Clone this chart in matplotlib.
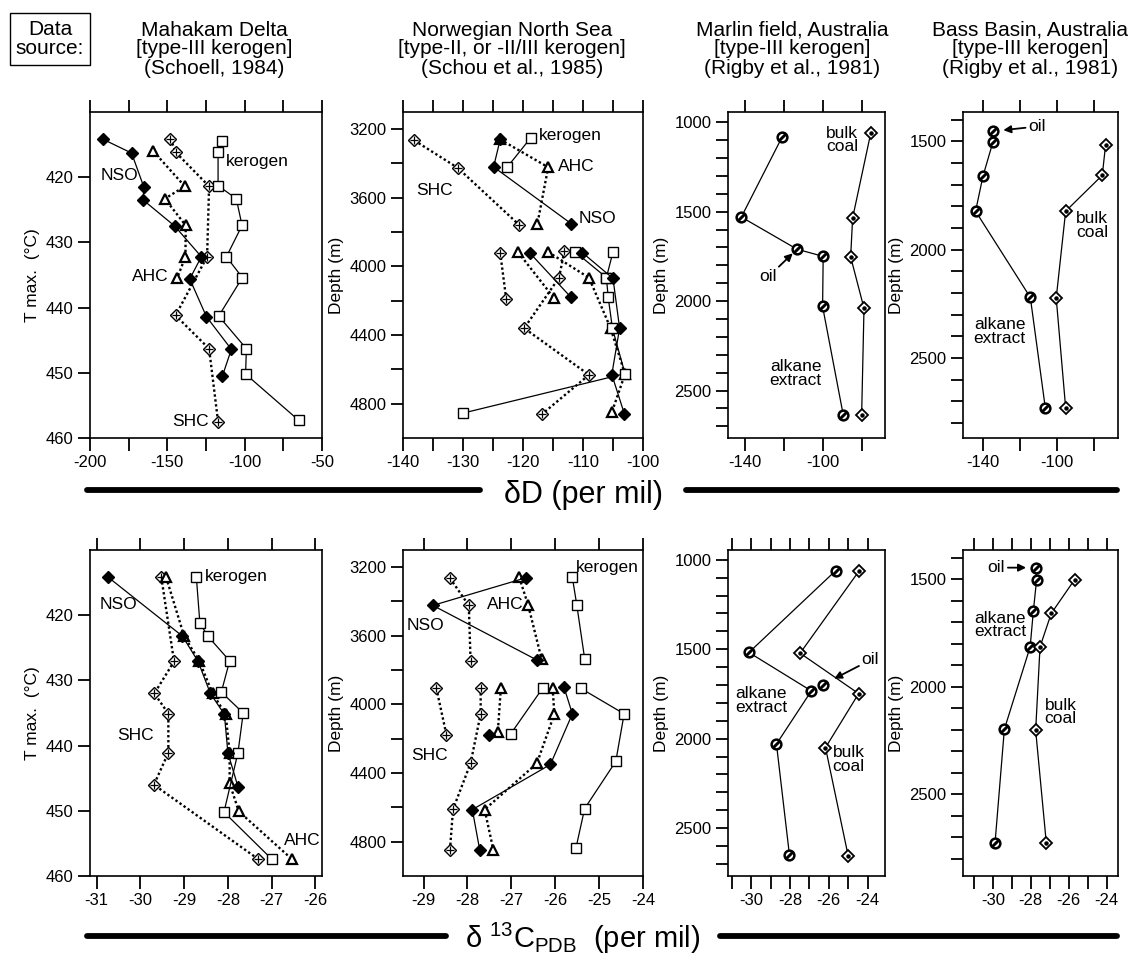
import numpy as np
import matplotlib
matplotlib.use('Agg')
import matplotlib.pyplot as plt
from matplotlib.lines import Line2D

plt.rcParams['font.family'] = ['Liberation Sans', 'DejaVu Sans']
plt.rcParams['mathtext.fontset'] = 'custom'
plt.rcParams['mathtext.rm'] = 'Liberation Sans'
plt.rcParams['mathtext.it'] = 'Liberation Sans:italic'
plt.rcParams['axes.unicode_minus'] = False

nan = np.nan

# ---------------- data: delta D (top row) ----------------
# Mahakam Delta, x = dD, y = Tmax
mah_dD_nso_x = [-191.4, -173.1, -165.2, -165.6, -145.2, -128.0, -135.5, -124.7, -108.6, -114.4]
mah_dD_nso_t = [414.2, 416.3, 421.5, 423.5, 427.5, 432.2, 435.6, 441.4, 446.4, 450.5]
mah_dD_ahc_x = [-159.1, -138.7, -151.6, -138.1, -138.3, -143.7]
mah_dD_ahc_t = [416.0, 421.4, 423.3, 427.4, 432.2, 435.5]
mah_dD_shc_x = [-148.0, -144.5, -123.0, -124.3, -144.7, -123.0, -117.2]
mah_dD_shc_t = [414.1, 416.2, 421.4, 432.2, 441.2, 446.3, 457.5]
mah_dD_ker_x = [-114.4, -117.2, -117.2, -105.4, -101.7, -111.8, -101.5, -116.8, -98.9, -99.4, -65.0]
mah_dD_ker_t = [414.4, 416.2, 421.3, 423.3, 427.4, 432.2, 435.4, 441.3, 446.3, 450.2, 457.3]

# Norwegian North Sea, x = dD, y = depth (nan separates wells)
nor_dD_nso_x = [-123.8, -124.9, -112.0, nan, -118.9, -112.0, nan, -110.1, -105.0, -103.9, -105.2, -103.1]
nor_dD_nso_d = [3260, 3420, 3750, nan, 3920, 4180, nan, 3920, 4070, 4360, 4630, 4860]
nor_dD_ker_x = [-118.7, -122.6, nan, -111.3, -106.1, -105.8, -105.1, -103.0, -130.0, nan, -105.0, -106.1]
nor_dD_ker_d = [3250, 3420, nan, 3915, 4065, 4180, 4360, 4625, 4855, nan, 3915, 4065]
nor_dD_ahc_x = [-123.8, -115.8, -117.6, nan, -120.8, -114.8, nan, -115.8, -109.0, -105.4, -103.0, -105.2]
nor_dD_ahc_d = [3260, 3422, 3752, nan, 3918, 4186, nan, 3916, 4066, 4360, 4628, 4850]
nor_dD_shc_x = [-138.1, -130.9, -120.7, nan, -123.8, -122.8, nan, -113.1, -114.0, -119.8, -109.0, -116.8]
nor_dD_shc_d = [3266, 3425, 3756, nan, 3920, 4190, nan, 3912, 4066, 4360, 4632, 4860]

# Marlin field
mar_dD_alk_x = [-120.8, -141.7, -113.3, -100.0, -100.3, -89.8]
mar_dD_alk_d = [1080, 1530, 1710, 1750, 2030, 2635]
mar_dD_coal_x = [-75.8, -85.0, -86.0, -79.2, -80.4]
mar_dD_coal_d = [1063, 1535, 1753, 2040, 2634]

# Bass Basin
bas_dD_alk_x = [-134.6, -134.6, -140.0, -144.0, -114.4, -106.3]
bas_dD_alk_d = [1453, 1503, 1661, 1823, 2221, 2731]
bas_dD_coal_x = [-73.7, -75.5, -95.3, -100.4, -95.3]
bas_dD_coal_d = [1516, 1657, 1823, 2224, 2731]

# ---------------- data: delta 13C (bottom row) ----------------
mah_c_ker_x = [-28.72, -28.64, -28.46, -27.96, -28.15, -27.65, -27.77, -28.09, -27.0]
mah_c_ker_t = [414.2, 421.2, 423.2, 427.0, 431.8, 435.0, 441.1, 450.2, 457.4]
mah_c_nso_x = [-30.73, -29.04, -28.68, -28.40, -28.08, -28.00, -27.77]
mah_c_nso_t = [414.2, 423.2, 427.1, 432.0, 435.2, 441.1, 446.3]
mah_c_ahc_x = [-29.41, -29.0, -28.65, -28.35, -28.05, -27.96, -27.96, -27.75, -26.54]
mah_c_ahc_t = [414.2, 423.2, 427.1, 432.0, 435.2, 441.1, 445.8, 450.1, 457.4]
mah_c_shc_x = [-29.52, -29.23, -29.68, -29.36, -29.36, -29.69, -27.31]
mah_c_shc_t = [414.2, 427.1, 432.0, 435.1, 441.1, 446.0, 457.4]

nor_c_shc_x = [-28.40, -27.97, -27.93, nan, -28.71, -28.48, nan, -27.70, -27.70, -27.93, -28.33, -28.40]
nor_c_shc_d = [3264, 3423, 3747, nan, 3906, 4177, nan, 3906, 4055, 4343, 4611, 4849]
nor_c_nso_x = [-26.67, -28.79, -26.42, nan, -27.51, nan, -25.80, -25.61, -26.11, -27.89, -27.72]
nor_c_nso_d = [3262, 3423, 3741, nan, 4177, nan, 3900, 4055, 4350, 4613, 4850]
nor_c_ahc_x = [-26.82, -26.62, -26.31, nan, -27.24, -27.31, nan, -26.06, -26.02, -26.42, -27.61, -27.41]
nor_c_ahc_d = [3260, 3419, 3737, nan, 3906, 4163, nan, 3906, 4056, 4344, 4613, 4848]
nor_c_ker_x = [-25.61, -25.51, -25.33, nan, -26.29, -27.01, nan, -25.42, -24.43, -24.62, -25.33, -25.53]
nor_c_ker_d = [3260, 3419, 3733, nan, 3906, 4170, nan, 3906, 4055, 4332, 4607, 4839]

mar_c_alk_x = [-25.65, -30.12, -26.90, -28.70, -28.03]
mar_c_alk_d = [1061, 1518, 1733, 2030, 2650]
mar_c_oil_x = [-26.3]
mar_c_oil_d = [1698]
mar_c_coal_x = [-24.43, -27.48, -24.46, -26.17, -25.0]
mar_c_coal_d = [1061, 1522, 1748, 2050, 2655]

bas_c_alk_x = [-27.74, -27.69, -27.86, -28.03, -29.39, -29.88]
bas_c_alk_d = [1447, 1503, 1647, 1815, 2198, 2725]
bas_c_coal_x = [-25.69, -26.92, -27.51, -27.74, -27.18]
bas_c_coal_d = [1503, 1660, 1815, 2203, 2725]

titles = ['Mahakam Delta\n[type-III kerogen]\n(Schoell, 1984)',
          'Norwegian North Sea\n[type-II, or -II/III kerogen]\n(Schou et al., 1985)',
          'Marlin field, Australia\n[type-III kerogen]\n(Rigby et al., 1981)',
          'Bass Basin, Australia\n[type-III kerogen]\n(Rigby et al., 1981)']

# ---------------- figure ----------------
W, H = 1137, 965
fig = plt.figure(figsize=(W / 100, H / 100), dpi=100)

cols = [(90, 322), (403, 643), (728, 885), (963, 1118)]
title_cx = [214, 512, 792, 1030]
rows = [(112, 438), (550, 876)]


def new_ax(col, row):
    x0, x1 = cols[col]
    y0, y1 = rows[row]
    ax = fig.add_axes([x0 / W, 1 - y1 / H, (x1 - x0) / W, (y1 - y0) / H])
    for s in ax.spines.values():
        s.set_linewidth(1.2)
    ax.tick_params(direction='out', length=9, width=1.3, top=True, bottom=True,
                   left=True, right=False, labelsize=12, pad=3)
    return ax


def set_ticks(ax, xlim, xt, xl, ylim, yt, yl, ylabel):
    ax.set_xlim(*xlim)
    ax.set_ylim(*ylim)
    ax.set_xticks(xt)
    ax.set_xticklabels(xl)
    ax.set_yticks(yt)
    ax.set_yticklabels(yl)
    ax.set_ylabel(ylabel, fontsize=12.5, labelpad=4)


dots = (0, (1.0, 1.1))


def nso(ax, x, y):
    ax.plot(x, y, '-', color='k', lw=0.9, marker='D', ms=6.5, mfc='k', mec='k', zorder=5)


def ker(ax, x, y):
    ax.plot(x, y, '-', color='k', lw=0.9, marker='s', ms=7.5, mfc='white', mec='k', mew=1.0, zorder=4)


def ahc(ax, x, y):
    ax.plot(x, y, ls=dots, color='k', lw=1.7, marker='^', ms=6.5, mfc='white', mec='k', mew=1.6, zorder=3)


def shc(ax, x, y):
    ax.plot(x, y, ls=dots, color='k', lw=1.7, marker='D', ms=5.8, mfc='white', mec='k', mew=1.0, zorder=2)
    ax.plot(x, y, ls='none', marker='+', ms=5.5, mec='k', mew=0.9, zorder=2.1)


def alk(ax, x, y, line=True):
    ax.plot(x, y, '-' if line else 'none', color='k', lw=0.9, marker='o', ms=7, mfc='white',
            mec='k', mew=1.8, zorder=3)
    ax.plot(x, y, ls='none', marker=(2, 2, -45), ms=7, mec='k', mew=1.8, zorder=3.1)


def coal(ax, x, y):
    ax.plot(x, y, '-', color='k', lw=0.9, marker='D', ms=6.2, mfc='white', mec='k', mew=1.3, zorder=3)
    ax.plot(x, y, ls='none', marker='o', ms=2.2, mfc='k', mec='k', zorder=3.1)


def txt(ax, x, y, s, ha='center', va='center'):
    ax.text(x, y, s, ha=ha, va=va, fontsize=12.5, linespacing=0.9, zorder=6)


arrow = dict(arrowstyle='-|>', color='k', lw=1.3, mutation_scale=11, shrinkA=0, shrinkB=2)

# ---- panel 1: Mahakam dD ----
ax = new_ax(0, 0)
shc(ax, mah_dD_shc_x, mah_dD_shc_t)
ahc(ax, mah_dD_ahc_x, mah_dD_ahc_t)
ker(ax, mah_dD_ker_x, mah_dD_ker_t)
nso(ax, mah_dD_nso_x, mah_dD_nso_t)
set_ticks(ax, (-200, -50), [-200, -175, -150, -125, -100, -75, -50],
          ['-200', '', '-150', '', '-100', '', '-50'],
          (460, 410), [420, 430, 440, 450, 460], ['420', '430', '440', '450', '460'],
          'T max.  (°C)')
txt(ax, -181, 419.8, 'NSO')
txt(ax, -112.3, 417.6, 'kerogen', ha='left')
txt(ax, -149.5, 435.2, 'AHC', ha='right')
txt(ax, -123.5, 457.4, 'SHC', ha='right')

# ---- panel 2: Norway dD ----
ax = new_ax(1, 0)
shc(ax, nor_dD_shc_x, nor_dD_shc_d)
ahc(ax, nor_dD_ahc_x, nor_dD_ahc_d)
ker(ax, nor_dD_ker_x, nor_dD_ker_d)
nso(ax, nor_dD_nso_x, nor_dD_nso_d)
set_ticks(ax, (-140, -100), list(range(-140, -99, 5)),
          ['-140', '', '-130', '', '-120', '', '-110', '', '-100'],
          (5000, 3100), list(range(3200, 4801, 200)),
          ['3200', '', '3600', '', '4000', '', '4400', '', '4800'], 'Depth (m)')
txt(ax, -117.4, 3235, 'kerogen', ha='left')
txt(ax, -114.2, 3420, 'AHC', ha='left')
txt(ax, -134.8, 3556, 'SHC')
txt(ax, -110.8, 3722, 'NSO', ha='left')

# ---- panel 3: Marlin dD ----
ax = new_ax(2, 0)
alk(ax, mar_dD_alk_x, mar_dD_alk_d)
coal(ax, mar_dD_coal_x, mar_dD_coal_d)
set_ticks(ax, (-148.5, -68.5), [-140, -120, -100, -80], ['-140', '', '-100', ''],
          (2765, 943), list(range(1000, 2701, 100)),
          [str(v) if v % 500 == 0 else '' for v in range(1000, 2701, 100)], 'Depth (m)')
txt(ax, -98.5, 1100, 'bulk\ncoal', ha='left')
txt(ax, -114, 2405, 'alkane\nextract')
ax.annotate('oil', xy=(-114.5, 1722), xytext=(-128, 1865), ha='center', va='center',
            fontsize=12.5, arrowprops=arrow)

# ---- panel 4: Bass dD ----
ax = new_ax(3, 0)
alk(ax, bas_dD_alk_x, bas_dD_alk_d)
coal(ax, bas_dD_coal_x, bas_dD_coal_d)
set_ticks(ax, (-150.8, -67), [-140, -120, -100, -80], ['-140', '', '-100', ''],
          (2870, 1365), list(range(1400, 2801, 100)),
          [str(v) if v % 500 == 0 else '' for v in range(1400, 2801, 100)], 'Depth (m)')
ax.annotate('oil', xy=(-130.5, 1450), xytext=(-115.5, 1432), ha='left', va='center',
            fontsize=12.5, arrowprops=arrow)
txt(ax, -89.5, 1890, 'bulk\ncoal', ha='left')
txt(ax, -131, 2380, 'alkane\nextract')

# ---- panel 5: Mahakam d13C ----
ax = new_ax(0, 1)
shc(ax, mah_c_shc_x, mah_c_shc_t)
ahc(ax, mah_c_ahc_x, mah_c_ahc_t)
ker(ax, mah_c_ker_x, mah_c_ker_t)
nso(ax, mah_c_nso_x, mah_c_nso_t)
set_ticks(ax, (-31.15, -25.85), [-31, -30, -29, -28, -27, -26],
          ['-31', '-30', '-29', '-28', '-27', '-26'],
          (460, 410), [420, 430, 440, 450, 460], ['420', '430', '440', '450', '460'],
          'T max.  (°C)')
txt(ax, -30.5, 418.4, 'NSO')
txt(ax, -28.52, 414.0, 'kerogen', ha='left')
txt(ax, -30.1, 438.4, 'SHC')
txt(ax, -26.72, 454.6, 'AHC', ha='left')

# ---- panel 6: Norway d13C ----
ax = new_ax(1, 1)
shc(ax, nor_c_shc_x, nor_c_shc_d)
ahc(ax, nor_c_ahc_x, nor_c_ahc_d)
ker(ax, nor_c_ker_x, nor_c_ker_d)
nso(ax, nor_c_nso_x, nor_c_nso_d)
set_ticks(ax, (-29.47, -24.0), [-29, -28, -27, -26, -25, -24],
          ['-29', '-28', '-27', '-26', '-25', '-24'],
          (5000, 3100), list(range(3200, 4801, 200)),
          ['3200', '', '3600', '', '4000', '', '4400', '', '4800'], 'Depth (m)')
txt(ax, -25.52, 3200, 'kerogen', ha='left')
txt(ax, -28.95, 3540, 'NSO')
txt(ax, -26.72, 3415, 'AHC', ha='right')
txt(ax, -28.87, 4295, 'SHC')

# ---- panel 7: Marlin d13C ----
ax = new_ax(2, 1)
alk(ax, mar_c_alk_x, mar_c_alk_d)
alk(ax, mar_c_oil_x, mar_c_oil_d, line=False)
coal(ax, mar_c_coal_x, mar_c_coal_d)
set_ticks(ax, (-31.2, -23.1), list(range(-31, -23)),
          ['', '-30', '', '-28', '', '-26', '', '-24'],
          (2768, 945), list(range(1000, 2701, 100)),
          [str(v) if v % 500 == 0 else '' for v in range(1000, 2701, 100)], 'Depth (m)')
txt(ax, -29.5, 1785, 'alkane\nextract')
ax.annotate('oil', xy=(-25.85, 1672), xytext=(-24.3, 1560), ha='left', va='center',
            fontsize=12.5, arrowprops=arrow)
txt(ax, -25.8, 2115, 'bulk\ncoal', ha='left')

# ---- panel 8: Bass d13C ----
ax = new_ax(3, 1)
alk(ax, bas_c_alk_x, bas_c_alk_d)
coal(ax, bas_c_coal_x, bas_c_coal_d)
set_ticks(ax, (-31.57, -23.4), list(range(-31, -23)),
          ['', '-30', '', '-28', '', '-26', '', '-24'],
          (2880, 1365), list(range(1400, 2801, 100)),
          [str(v) if v % 500 == 0 else '' for v in range(1400, 2801, 100)], 'Depth (m)')
ax.annotate('oil', xy=(-28.1, 1447), xytext=(-29.35, 1447), ha='right', va='center',
            fontsize=12.5, arrowprops=arrow)
txt(ax, -31.0, 1714, 'alkane\nextract', ha='left')
txt(ax, -27.27, 2118, 'bulk\ncoal', ha='left')

# ---------------- titles and big labels ----------------
for cx, t in zip(title_cx, titles):
    fig.text(cx / W, 1 - 49 / H, t, ha='center', va='center', fontsize=15, linespacing=1.0)

fig.text(50 / W, 1 - 39 / H, 'Data\nsource:', ha='center', va='center', fontsize=15,
         linespacing=1.05, bbox=dict(boxstyle='square,pad=0.3', fc='white', ec='k', lw=1.0))


def thick(x0, x1, y):
    fig.add_artist(Line2D([x0 / W, x1 / W], [1 - y / H, 1 - y / H], color='k', lw=4.2,
                          solid_capstyle='round', transform=fig.transFigure))


thick(87, 480, 490)
thick(686, 1117, 490)
fig.text(583 / W, 1 - 495 / H, 'δD (per mil)', ha='center', va='center', fontsize=22)

thick(87, 446, 936)
thick(720, 1117, 936)
fig.text(583 / W, 1 - 938 / H, r'$\mathrm{\delta\ ^{13}C_{PDB}}$  (per mil)', ha='center',
         va='center', fontsize=21)

fig.savefig('out.png', dpi=100)
